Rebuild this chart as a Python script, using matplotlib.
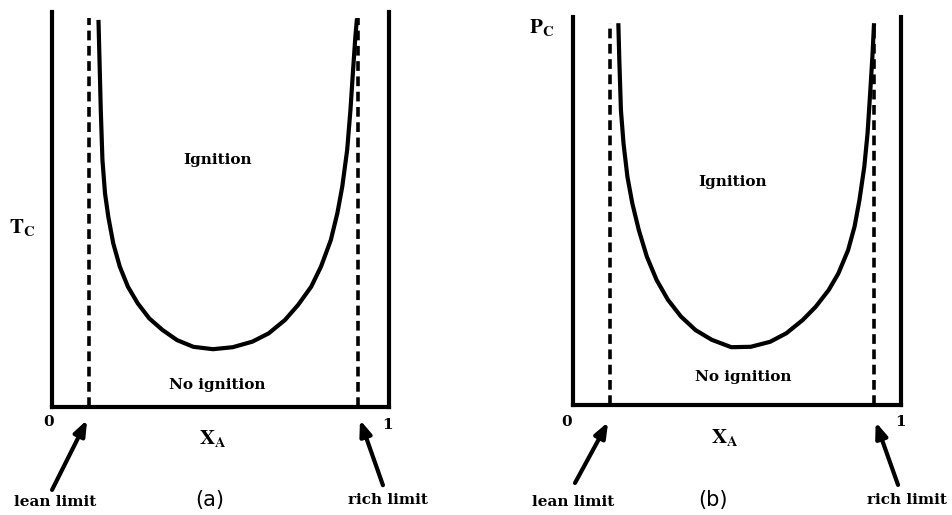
import matplotlib
matplotlib.use("Agg")
import matplotlib.pyplot as plt

plt.rcParams['lines.scale_dashes'] = False
plt.rcParams['mathtext.fontset'] = 'stix'

# ---- data (axis ranges 0..1) ----
# panel (a): critical temperature Tc vs mole fraction X_A
a_x = [0.1387, 0.1417, 0.1455, 0.1504, 0.1581, 0.1678, 0.1824, 0.2018, 0.2260,
       0.2551, 0.2891, 0.3279, 0.3715, 0.4200, 0.4782, 0.5365, 0.5947, 0.6432,
       0.6917, 0.7305, 0.7693, 0.7984, 0.8275, 0.8469, 0.8614, 0.8760, 0.8857,
       0.8935, 0.9003, 0.9051]
a_y = [0.980, 0.879, 0.752, 0.626, 0.541, 0.482, 0.415, 0.356, 0.305,
       0.263, 0.225, 0.196, 0.170, 0.153, 0.147, 0.152, 0.166, 0.187,
       0.221, 0.259, 0.305, 0.356, 0.423, 0.491, 0.558, 0.651, 0.752,
       0.853, 0.938, 0.984]
a_lean = 0.111
a_rich = 0.909

# panel (b): critical pressure Pc vs mole fraction X_A
b_x = [0.1390, 0.1420, 0.1469, 0.1548, 0.1667, 0.1815, 0.2013, 0.2260, 0.2557,
       0.2902, 0.3298, 0.3743, 0.4237, 0.4830, 0.5423, 0.6016, 0.6510, 0.7005,
       0.7400, 0.7795, 0.8092, 0.8388, 0.8586, 0.8734, 0.8882, 0.8981, 0.9060,
       0.9129, 0.9179]
b_y = [0.984, 0.889, 0.760, 0.674, 0.588, 0.520, 0.451, 0.382, 0.322,
       0.271, 0.228, 0.193, 0.168, 0.149, 0.150, 0.163, 0.185, 0.219,
       0.253, 0.296, 0.339, 0.399, 0.460, 0.528, 0.614, 0.700, 0.803,
       0.898, 0.984]
b_lean = 0.114
b_rich = 0.918

tick_labels = ["0", "1"]
region_labels = ["Ignition", "No ignition"]
limit_labels = ["lean limit", "rich limit"]

W, H = 953, 515
fig = plt.figure(figsize=(W / 100, H / 100), dpi=100)

LBL = dict(family='DejaVu Serif', fontweight='bold', fontsize=11, color='black')


def make_panel(rect, xs, ys, lean, rich, ylab, ylab_pos, panel_lab, pos):
    ax = fig.add_axes(rect)
    ax.set_xlim(0, 1)
    ax.set_ylim(0, 1)
    ax.spines['top'].set_visible(False)
    for s in ['left', 'right', 'bottom']:
        ax.spines[s].set_linewidth(3.0)
        ax.spines[s].set_color('black')
    ax.set_xticks([])
    ax.set_yticks([])
    ax.patch.set_alpha(0)

    ax.plot(xs, ys, color='black', lw=3.0, solid_capstyle='butt',
            solid_joinstyle='round')
    ax.plot([lean, lean], [0, 0.985], color='black', lw=2.6, dashes=(7, 4))
    ax.plot([rich, rich], [0, 0.985], color='black', lw=2.6, dashes=(7, 4))

    ax.text(pos['ign'][0], pos['ign'][1], region_labels[0], ha='center', va='center', **LBL)
    ax.text(pos['noign'][0], pos['noign'][1], region_labels[1], ha='center', va='center', **LBL)
    ax.text(ylab_pos[0], ylab_pos[1], ylab, ha='center', va='center',
            fontsize=15, color='black', clip_on=False)
    ax.text(pos['t0'][0], pos['t0'][1], tick_labels[0], ha='center', va='center', **LBL)
    ax.text(pos['t1'][0], pos['t1'][1], tick_labels[1], ha='center', va='center', **LBL)
    ax.text(pos['xa'][0], pos['xa'][1], r'$\mathbf{X_A}$', ha='center', va='center',
            fontsize=15, color='black')
    ax.text(pos['pl'][0], pos['pl'][1], panel_lab, ha='center', va='center',
            family='DejaVu Sans', fontsize=15, color='black')
    ax.text(pos['ll'][0], pos['ll'][1], limit_labels[0], ha='center', va='center', **LBL)
    ax.text(pos['rl'][0], pos['rl'][1], limit_labels[1], ha='center', va='center', **LBL)

    arrow = dict(arrowstyle='-|>,head_length=0.9,head_width=0.35', lw=3.0, color='black',
                 shrinkA=0, shrinkB=0)
    ax.annotate('', xy=(lean - 0.006, pos['ah_y']), xytext=pos['la_tail'],
                arrowprops=arrow, annotation_clip=False)
    ax.annotate('', xy=(rich + 0.005, pos['ah_y']), xytext=pos['ra_tail'],
                arrowprops=arrow, annotation_clip=False)
    return ax


# panel (a)
make_panel([51.7 / W, (H - 407.3) / H, 337.3 / W, 395.3 / H],
           a_x, a_y, a_lean, a_rich, r'$\mathbf{T_C}$', (-0.088, 0.456), '(a)',
           dict(ign=(0.493, 0.626), noign=(0.49, 0.057), t0=(-0.008, -0.037),
                t1=(0.997, -0.045), xa=(0.478, -0.08), pl=(0.47, -0.234),
                ll=(0.01, -0.24), rl=(0.997, -0.234), ah_y=-0.032,
                la_tail=(0.001, -0.209), ra_tail=(0.982, -0.197)))

# panel (b)
make_panel([572.7 / W, (H - 405) / H, 328.3 / W, 388 / H],
           b_x, b_y, b_lean, b_rich, r'$\mathbf{P_C}$', (-0.094, 0.974), '(b)',
           dict(ign=(0.488, 0.575), noign=(0.519, 0.072), t0=(-0.02, -0.044),
                t1=(0.999, -0.044), xa=(0.464, -0.085), pl=(0.427, -0.245),
                ll=(0.001, -0.25), rl=(1.017, -0.245), ah_y=-0.044,
                la_tail=(0.007, -0.201), ra_tail=(0.991, -0.206)))

fig.savefig('out.png', dpi=100, facecolor='white')
